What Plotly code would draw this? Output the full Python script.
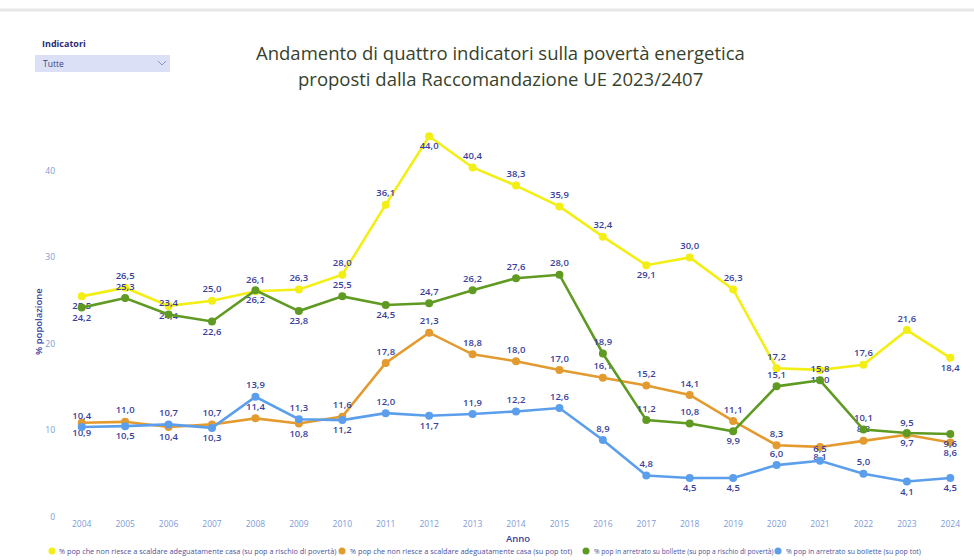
import plotly.graph_objects as go

# ---------------- data ----------------
years = list(range(2004, 2025))

series_names = [
    "% pop che non riesce a scaldare adeguatamente casa (su pop a rischio di povertà)",
    "% pop che non riesce a scaldare adeguatamente casa (su pop tot)",
    "% pop in arretrato su bollette (su pop a rischio di povertà)",
    "% pop in arretrato su bollette (su pop tot)",
]

scaldare_rischio = [25.5, 26.5, 24.4, 25.0, 26.1, 26.3, 28.0, 36.1, 44.0, 40.4, 38.3,
                    35.9, 32.4, 29.1, 30.0, 26.3, 17.2, 17.0, 17.6, 21.6, 18.4]
scaldare_tot = [10.9, 11.0, 10.4, 10.7, 11.4, 10.8, 11.6, 17.8, 21.3, 18.8, 18.0,
                17.0, 16.1, 15.2, 14.1, 11.1, 8.3, 8.1, 8.8, 9.5, 8.6]
bollette_rischio = [24.2, 25.3, 23.4, 22.6, 26.2, 23.8, 25.5, 24.5, 24.7, 26.2, 27.6,
                    28.0, 18.9, 11.2, 10.8, 9.9, 15.1, 15.8, 10.1, 9.7, 9.6]
bollette_tot = [10.4, 10.5, 10.7, 10.3, 13.9, 11.3, 11.2, 12.0, 11.7, 11.9, 12.2,
                12.6, 8.9, 4.8, 4.5, 4.5, 6.0, 6.5, 5.0, 4.1, 4.5]

y_ticks = [0, 10, 20, 30, 40]

title_lines = ["Andamento di quattro indicatori sulla povertà energetica",
               "proposti dalla Raccomandazione UE 2023/2407"]

# ---------------- styles ----------------
colors = ["#F3EE14", "#E39B2F", "#5F9A22", "#5B9FEC"]
label_color = "#3B3F9C"

T, B = "top center", "bottom center"
label_pos = [
    [B, T, B, T, T, T, T, T, B, T, T, T, T, B, T, T, T, B, T, T, B],
    [B, T, B, T, T, B, T, T, T, T, T, T, T, T, T, T, T, B, T, T, B],
    [B, T, T, B, B, B, T, B, T, T, T, T, T, T, T, B, T, T, T, B, B],
    [T, B, T, B, T, T, B, T, B, T, T, T, T, T, B, B, T, T, T, B, B],
]

# layout geometry (pixels)
FW, FH = 974, 560
L, R, TOP, BOT = 60, 2, 119, 43
PW, PH = FW - L - R, FH - TOP - BOT


def px(x):
    return (x - L) / PW


def py(y):
    return (FH - BOT - y) / PH


FONT = "Open Sans, Segoe UI, sans-serif"

fig = go.Figure()
all_values = [scaldare_rischio, scaldare_tot, bollette_rischio, bollette_tot]
for name, vals, col, pos in zip(series_names, all_values, colors, label_pos):
    fig.add_trace(go.Scatter(
        x=years, y=vals, name=name, mode="lines+markers+text",
        line=dict(color=col, width=2.6),
        marker=dict(color=col, size=8),
        texttemplate="%{y:.1f}", textposition=pos,
        textfont=dict(family=FONT, size=9.5, color=label_color, weight=600),
        showlegend=False, hoverinfo="skip", cliponaxis=False,
    ))


def ann(text, x, y, size, color, xanchor="center", weight=400, angle=0):
    return dict(text=text, x=px(x), y=py(y), xref="paper", yref="paper",
                xanchor=xanchor, yanchor="middle", showarrow=False, textangle=angle,
                font=dict(family=FONT, size=size, color=color, weight=weight))


annotations = [
    ann(title_lines[0], 500, 52, 18.5, "#37422C"),
    ann(title_lines[1], 500, 78, 18.5, "#37422C"),
    ann("% popolazione", 38, 322, 9.5, label_color, weight=600, angle=-90),
    ann("Anno", 518, 538, 9.5, label_color, weight=600),
    ann("Indicatori", 40, 43, 9, "#2B2C78", xanchor="left", weight=700),
    ann("Tutte", 41, 63, 8.5, "#3A3F7E", xanchor="left"),
]

shapes = [
    dict(type="rect", xref="paper", yref="paper", x0=px(35), x1=px(170),
         y0=py(72), y1=py(55), fillcolor="#DCE0F6", line=dict(width=0), layer="below"),
    dict(type="path", xref="paper", yref="paper",
         path=f"M {px(158)},{py(61)} L {px(162)},{py(65)} L {px(166)},{py(61)}",
         line=dict(color="#8C93C8", width=1)),
    dict(type="line", xref="paper", yref="paper", x0=px(0), x1=px(974),
         y0=py(10), y1=py(10), line=dict(color="#E8E8E8", width=3)),
]

# legend drawn as circles + texts (positions as in the reference)
legend_circles = [52, 342, 586, 778]
legend_texts = [57, 348, 592, 784]
legend_sizes = [7.3, 7.3, 6.7, 7.0]
for name, col, cx, tx, fs in zip(series_names, colors, legend_circles, legend_texts, legend_sizes):
    shapes.append(dict(type="circle", xref="paper", yref="paper",
                       xsizemode="pixel", ysizemode="pixel",
                       xanchor=px(cx), yanchor=py(551),
                       x0=-3.5, x1=3.5, y0=-3.5, y1=3.5,
                       fillcolor=col, line=dict(width=0)))
    annotations.append(ann(name, tx, 551, fs, "#4A529E", xanchor="left"))

fig.update_layout(
    width=FW, height=FH,
    margin=dict(l=L, r=R, t=TOP, b=BOT),
    paper_bgcolor="white", plot_bgcolor="white",
    separators=",.",
    xaxis=dict(range=[2003.5, 2024.5], tickmode="array", tickvals=years,
               ticktext=[str(y) for y in years], showgrid=False, zeroline=False,
               showline=False, ticks="", tickfont=dict(family=FONT, size=8.5, color="#7D9BD6")),
    yaxis=dict(range=[0, 46], tickmode="array", tickvals=y_ticks,
               ticktext=[str(v) for v in y_ticks], showgrid=False, zeroline=False,
               showline=False, ticks="", ticklabelstandoff=4,
               tickfont=dict(family=FONT, size=8.5, color="#7D9BD6")),
    annotations=annotations,
    shapes=shapes,
    showlegend=False,
)

fig.write_html("out.html", config={"displayModeBar": False},
               post_script="document.body.style.margin='0';")
